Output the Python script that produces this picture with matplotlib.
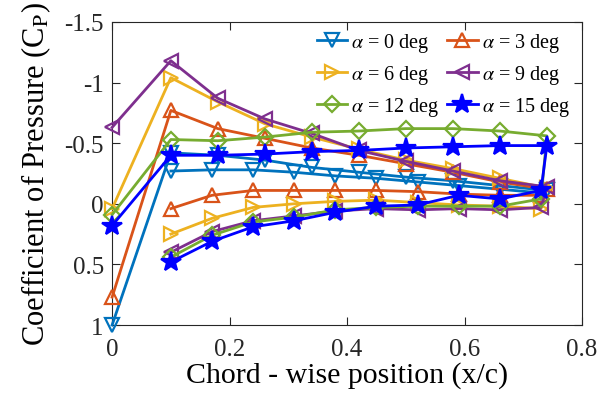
"""Pressure coefficient distribution over the chord for several angles of attack."""
import matplotlib
matplotlib.use('Agg')
import matplotlib.pyplot as plt
from matplotlib.ticker import FuncFormatter


# Chord-wise tap positions (x/c)
X_LE = 0.0
X_UPPER = [0.10, 0.18, 0.26, 0.34, 0.42, 0.50, 0.58, 0.66, 0.74]
X_LOWER = [0.10, 0.17, 0.24, 0.31, 0.38, 0.45, 0.52, 0.59, 0.66, 0.73]

ALPHAS = [0, 3, 6, 9, 12, 15]

# Cp at the leading edge tap
CP_LE = [1.00, 0.77, 0.04, -0.63, 0.09, 0.18]

# Cp on the upper-surface taps
CP_UPPER = [
    [-0.42, -0.40, -0.36, -0.30, -0.26, -0.22, -0.19, -0.15, -0.11],
    [-0.77, -0.62, -0.54, -0.46, -0.40, -0.33, -0.26, -0.18, -0.12],
    [-1.04, -0.84, -0.66, -0.55, -0.45, -0.36, -0.29, -0.21, -0.13],
    [-1.18, -0.87, -0.70, -0.58, -0.44, -0.35, -0.27, -0.19, -0.14],
    [-0.53, -0.52, -0.55, -0.59, -0.60, -0.62, -0.62, -0.60, -0.56],
    [-0.40, -0.40, -0.41, -0.43, -0.44, -0.46, -0.47, -0.48, -0.48],
]

# Cp on the lower-surface taps
CP_LOWER = [
    [-0.27, -0.28, -0.28, -0.26, -0.23, -0.21, -0.18, -0.15, -0.12, -0.09],
    [0.04, -0.07, -0.11, -0.11, -0.11, -0.11, -0.10, -0.08, -0.07, -0.07],
    [0.25, 0.12, 0.03, 0.00, -0.02, -0.03, -0.01, 0.01, 0.02, 0.04],
    [0.40, 0.23, 0.14, 0.10, 0.06, 0.04, 0.05, 0.04, 0.05, 0.03],
    [0.44, 0.26, 0.15, 0.11, 0.05, 0.03, 0.02, 0.02, 0.02, -0.04],
    [0.48, 0.31, 0.19, 0.14, 0.07, 0.02, 0.01, -0.07, -0.04, -0.11],
]

COLORS = ['#0072BD', '#D95319', '#EDB120', '#7E2F8E', '#77AC30', '#0000FF']
MARKERS = ['v', '^', '>', '<', 'D', '*']
SIZES = [10, 10, 10, 10, 8, 15]


plt.rcParams['font.family'] = ['Liberation Serif', 'DejaVu Serif']
plt.rcParams['mathtext.fontset'] = 'stix'
plt.rcParams['axes.unicode_minus'] = False

fig = plt.figure(figsize=(6.16, 4.02), dpi=100)
ax = fig.add_axes([0.182, 0.189, 0.763, 0.754])

handles = []
for i, alpha in enumerate(ALPHAS):
    # Walk leading edge -> upper surface -> trailing edge -> lower surface
    xs = [X_LE] + X_UPPER + X_LOWER[::-1]
    ys = [CP_LE[i]] + CP_UPPER[i] + CP_LOWER[i][::-1]
    star = MARKERS[i] == '*'
    line, = ax.plot(xs, ys, color=COLORS[i], lw=2, marker=MARKERS[i],
                    ms=SIZES[i], mfc=COLORS[i] if star else 'none', mew=1.6,
                    label=rf'$\alpha$ = {alpha} deg', clip_on=False,
                    zorder=3)
    handles.append(line)

ax.set_xlim(0, 0.8)
ax.set_ylim(1, -1.5)
ax.set_xticks([0, 0.2, 0.4, 0.6, 0.8])
ax.set_yticks([-1.5, -1, -0.5, 0, 0.5, 1])
fmt = FuncFormatter(lambda v, pos: f'{v:g}')
ax.xaxis.set_major_formatter(fmt)
ax.yaxis.set_major_formatter(fmt)
ax.tick_params(direction='in', top=True, right=True, labelsize=18,
               colors='#262626', length=6, width=0.8)
ax.tick_params(axis='x', pad=9)
ax.tick_params(axis='y', pad=6)
for spine in ax.spines.values():
    spine.set_color('#262626')
    spine.set_linewidth(0.8)

ax.set_xlabel('Chord - wise position (x/c)', fontsize=21.5, labelpad=1)
ax.set_ylabel('Coefficient of Pressure (C$_\\mathrm{P}$)', fontsize=22,
              labelpad=8)

# Row-wise legend: reorder handles for column-major filling
order = [0, 2, 4, 1, 3, 5]
ax.legend([handles[k] for k in order], [handles[k].get_label() for k in order],
          ncol=2, frameon=False, fontsize=14.5, loc='upper right',
          bbox_to_anchor=(0.991, 0.997), handlelength=1.5,
          handletextpad=0.2, columnspacing=0.4, labelspacing=0.45,
          borderaxespad=0)

fig.savefig('out.png', dpi=100)
